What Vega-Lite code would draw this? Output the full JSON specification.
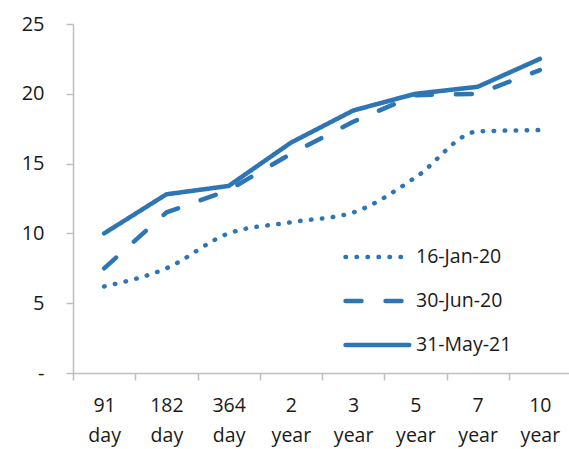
{
  "$schema": "https://vega.github.io/schema/vega-lite/v6.json",
  "width": 498,
  "height": 349,
  "autosize": {"type": "none"},
  "padding": {"left": 73, "top": 24, "right": 0, "bottom": 76},
  "background": "white",
  "config": {"font": "Open Sans", "view": {"stroke": null}},
  "data": {
    "values": [
      {"tenor": "91 day", "series": "16-Jan-20", "value": 6.2},
      {"tenor": "182 day", "series": "16-Jan-20", "value": 7.5},
      {"tenor": "364 day", "series": "16-Jan-20", "value": 10.0},
      {"tenor": "2 year", "series": "16-Jan-20", "value": 10.8},
      {"tenor": "3 year", "series": "16-Jan-20", "value": 11.5},
      {"tenor": "5 year", "series": "16-Jan-20", "value": 14.0},
      {"tenor": "7 year", "series": "16-Jan-20", "value": 17.3},
      {"tenor": "10 year", "series": "16-Jan-20", "value": 17.4},
      {"tenor": "91 day", "series": "30-Jun-20", "value": 7.5},
      {"tenor": "182 day", "series": "30-Jun-20", "value": 11.5},
      {"tenor": "364 day", "series": "30-Jun-20", "value": 13.1},
      {"tenor": "2 year", "series": "30-Jun-20", "value": 15.7},
      {"tenor": "3 year", "series": "30-Jun-20", "value": 18.0},
      {"tenor": "5 year", "series": "30-Jun-20", "value": 19.9},
      {"tenor": "7 year", "series": "30-Jun-20", "value": 20.0},
      {"tenor": "10 year", "series": "30-Jun-20", "value": 21.7},
      {"tenor": "91 day", "series": "31-May-21", "value": 10.0},
      {"tenor": "182 day", "series": "31-May-21", "value": 12.8},
      {"tenor": "364 day", "series": "31-May-21", "value": 13.4},
      {"tenor": "2 year", "series": "31-May-21", "value": 16.5},
      {"tenor": "3 year", "series": "31-May-21", "value": 18.8},
      {"tenor": "5 year", "series": "31-May-21", "value": 20.0},
      {"tenor": "7 year", "series": "31-May-21", "value": 20.5},
      {"tenor": "10 year", "series": "31-May-21", "value": 22.5}
    ]
  },
  "encoding": {
    "x": {
      "field": "tenor",
      "type": "ordinal",
      "sort": ["91 day", "182 day", "364 day", "2 year", "3 year", "5 year", "7 year", "10 year"],
      "scale": {"type": "band", "paddingInner": 0, "paddingOuter": 0},
      "axis": {
        "title": null,
        "labelAngle": 0,
        "labelExpr": "split(datum.label, ' ')",
        "labelFontSize": 19.5,
        "labelColor": "#1a1a1a",
        "labelPadding": 16,
        "labelLineHeight": 30,
        "labelBaseline": "top",
        "tickBand": "extent",
        "tickSize": 7,
        "tickColor": "#bfbfbf",
        "tickWidth": 1.5,
        "domainColor": "#bfbfbf",
        "domainWidth": 1.5,
        "grid": false
      }
    },
    "y": {
      "field": "value",
      "type": "quantitative",
      "scale": {"domain": [0, 25], "nice": false, "zero": true},
      "axis": {
        "title": null,
        "values": [0, 5, 10, 15, 20, 25],
        "labelExpr": "datum.value == 0 ? '-' : datum.label",
        "labelFontSize": 20,
        "labelColor": "#1a1a1a",
        "labelPadding": 22,
        "tickSize": 7,
        "tickColor": "#bfbfbf",
        "tickWidth": 1.5,
        "domainColor": "#bfbfbf",
        "domainWidth": 1.5,
        "grid": false
      }
    },
    "strokeDash": {
      "field": "series",
      "type": "nominal",
      "scale": {
        "domain": ["16-Jan-20", "30-Jun-20", "31-May-21"],
        "range": [[0.5, 10.5], [16, 24], [1, 0]]
      },
      "legend": {
        "orient": "none",
        "legendX": 270,
        "legendY": 222,
        "title": null,
        "symbolType": "M-1,0H6.5",
        "symbolSize": 289,
        "symbolStrokeWidth": 4.5,
        "symbolStrokeColor": "#2e75b6",
        "symbolFillColor": "transparent",
        "labelFontSize": 19.5,
        "labelColor": "#1a1a1a",
        "rowPadding": 23,
        "labelOffset": 51,
        "encode": {"symbols": {"update": {"strokeCap": {"value": "round"}}}}
      }
    }
  },
  "layer": [
    {
      "transform": [{"filter": "datum.series != '16-Jan-20'"}],
      "mark": {"type": "line", "color": "#2e75b6", "strokeWidth": 4.5, "strokeCap": "round", "strokeJoin": "round"}
    },
    {
      "transform": [{"filter": "datum.series == '16-Jan-20'"}],
      "mark": {"type": "line", "color": "#2e75b6", "strokeWidth": 4.5, "strokeCap": "round", "interpolate": "monotone"}
    }
  ]
}
